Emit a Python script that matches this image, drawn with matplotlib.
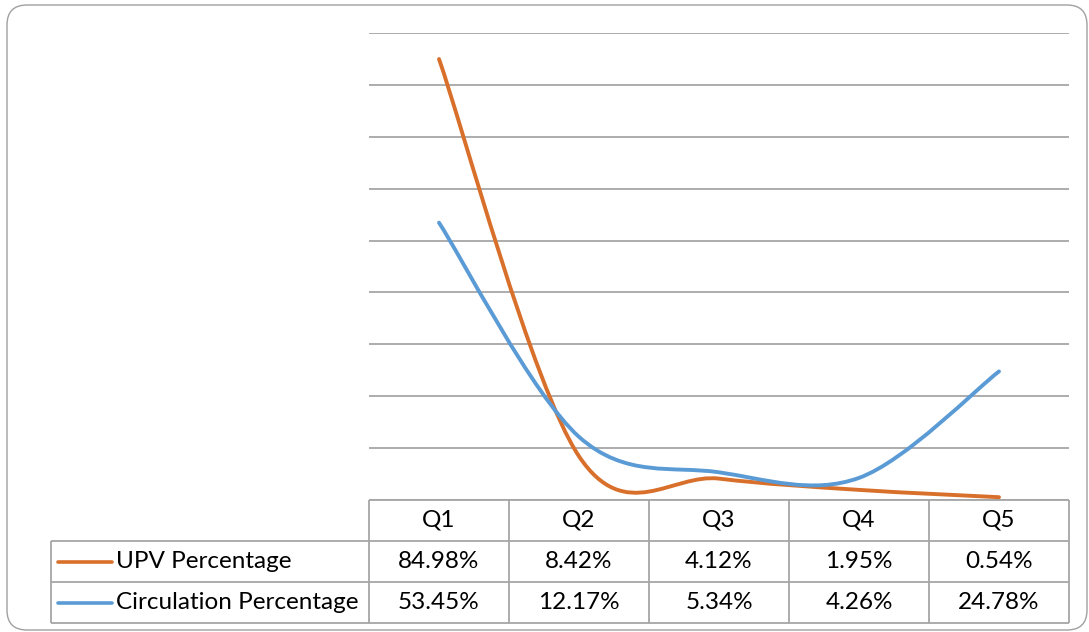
import numpy as np
import matplotlib.pyplot as plt
from matplotlib.path import Path
from matplotlib.patches import PathPatch, FancyBboxPatch

plt.rcParams['font.family'] = ['Lato', 'DejaVu Sans']

# データ
quintiles = ['Q1', 'Q2', 'Q3', 'Q4', 'Q5']
upv_pct = [84.98, 8.42, 4.12, 1.95, 0.54]
circ_pct = [53.45, 12.17, 5.34, 4.26, 24.78]
series_names = ['UPV Percentage', 'Circulation Percentage']
series_colors = ['#D86F2A', '#5B9BD5']

W, H = 1089, 632


# Excel風のスムージング（ベジェ曲線）
def smooth_path(xs, ys, t=1/6):
    p = np.column_stack([xs, ys])
    n = len(p)
    verts = [p[0]]
    codes = [Path.MOVETO]
    for i in range(n - 1):
        p0 = p[max(i - 1, 0)]
        p1 = p[i]
        p2 = p[i + 1]
        p3 = p[min(i + 2, n - 1)]
        c1 = p1 + (p2 - p0) * t
        c2 = p2 - (p3 - p1) * t
        verts += [c1, c2, p2]
        codes += [Path.CURVE4] * 3
    return Path(verts, codes)


fig = plt.figure(figsize=(W / 100, H / 100), dpi=100)

# 表と外枠（ピクセル座標）
ax_t = fig.add_axes([0, 0, 1, 1])
ax_t.set_xlim(0, W)
ax_t.set_ylim(H, 0)
ax_t.axis('off')

frame = FancyBboxPatch((7, 5), 1080, 625, boxstyle='round,pad=0,rounding_size=20',
                       fc='none', ec='#A0A0A0', lw=1.0)
ax_t.add_patch(frame)

x0, x_lab, x1 = 369, 51, 1069
col_w = (x1 - x0) / len(quintiles)
rows = [500, 541, 582, 623]
gc = '#A6A6A6'
lw = 1.3

ax_t.hlines(rows[0], x0, x1, color=gc, lw=lw)
ax_t.hlines(rows[1:], x_lab, x1, color=gc, lw=lw)
ax_t.vlines(x_lab, rows[1], rows[3], color=gc, lw=lw)
for k in range(len(quintiles) + 1):
    ax_t.vlines(x0 + k * col_w, rows[0], rows[3], color=gc, lw=lw)

fs = 17.5
for k, q in enumerate(quintiles):
    cx = x0 + (k + 0.5) * col_w
    ax_t.text(cx, (rows[0] + rows[1]) / 2, q, ha='center', va='center', fontsize=fs)
    for r, vals in enumerate([upv_pct, circ_pct]):
        ax_t.text(cx, (rows[r + 1] + rows[r + 2]) / 2, f'{vals[k]:.2f}%',
                  ha='center', va='center', fontsize=fs)

for r, (name, col) in enumerate(zip(series_names, series_colors)):
    cy = (rows[r + 1] + rows[r + 2]) / 2
    ax_t.plot([58, 112], [cy, cy], color=col, lw=2.6, solid_capstyle='round')
    ax_t.text(116, cy, name, ha='left', va='center', fontsize=fs)

# 折れ線グラフ
ax = fig.add_axes([x0 / W, (H - 500) / H, (x1 - x0) / W, (500 - 33) / H])
ax.set_facecolor('none')
ax.set_xlim(0, len(quintiles))
ax.set_ylim(0, 90)
ax.set_yticks(np.arange(0, 91, 10))
ax.grid(axis='y', color=gc, lw=1.3)
ax.set_axisbelow(True)
ax.tick_params(left=False, bottom=False, labelleft=False, labelbottom=False)
for s in ax.spines.values():
    s.set_visible(False)

xs = np.arange(len(quintiles)) + 0.5
for vals, col in zip([upv_pct, circ_pct], series_colors):
    ax.add_patch(PathPatch(smooth_path(xs, vals), fc='none', ec=col, lw=2.8,
                           capstyle='round', zorder=3))

fig.savefig('out.png', dpi=100)
